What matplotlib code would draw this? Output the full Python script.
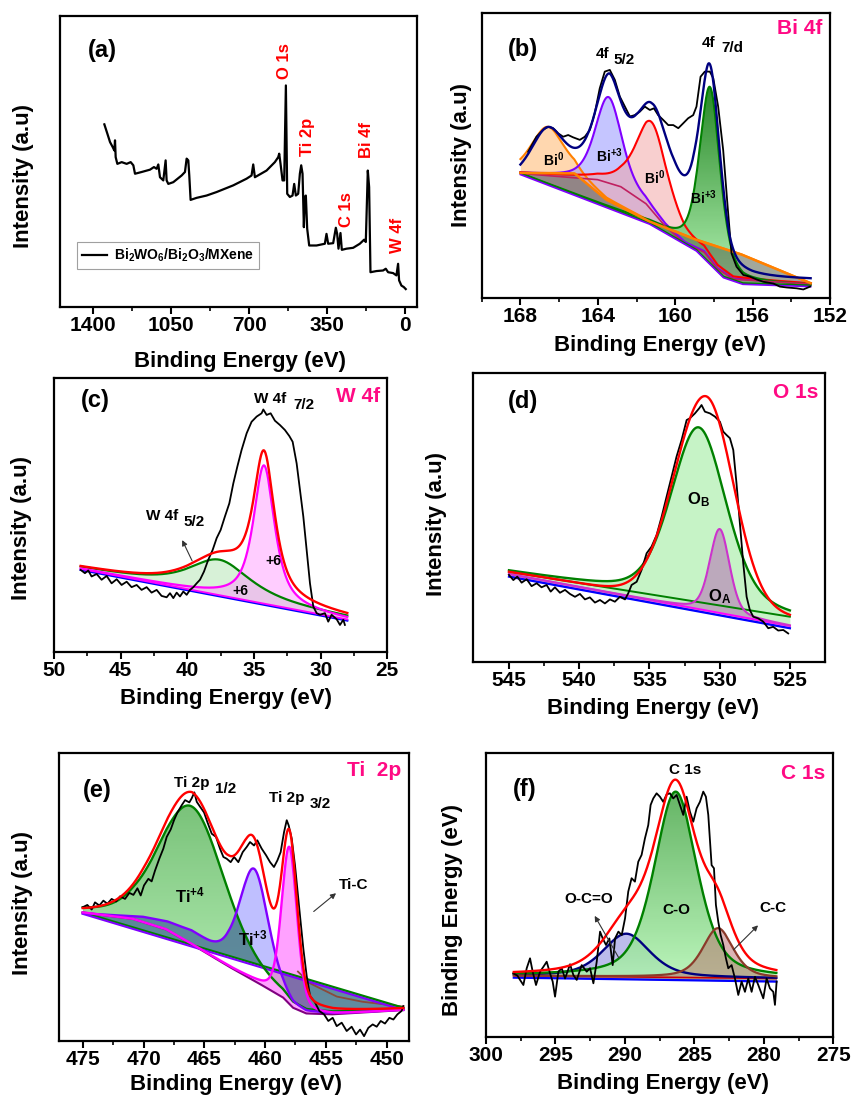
import numpy as np
import matplotlib
matplotlib.use("Agg")
import matplotlib.pyplot as plt
from matplotlib.colors import LinearSegmentedColormap

plt.rcParams['font.family'] = ['Liberation Sans', 'DejaVu Sans']
plt.rcParams['font.weight'] = 'bold'
plt.rcParams['axes.labelweight'] = 'bold'
plt.rcParams['mathtext.fontset'] = 'custom'
for k in ('rm', 'it', 'bf', 'sf'):
    plt.rcParams['mathtext.' + k] = 'Liberation Sans:bold'

# ---------------- (a) survey ----------------
A_E = [1350.6, 1337.1, 1325.1, 1313.2, 1305.7, 1302.7, 1299.7, 1292.2, 1272.7, 1250.3, 1232.3, 1220.3,
       1212.8, 1182.9, 1145.5, 1127.5, 1115.5, 1108.0, 1100.5, 1085.6, 1075.1, 1070.6, 1063.1, 1040.6,
       1003.2, 988.2, 980.7, 973.2, 968.8, 962.8, 935.8, 890.9, 846.0, 771.1, 711.2, 688.8, 681.3, 673.8,
       621.4, 584.0, 569.0, 564.5, 558.5, 549.5, 542.0, 534.5, 528.5, 516.5, 504.6, 497.1, 489.6, 479.1,
       471.6, 465.6, 459.6, 453.6, 449.2, 444.7, 438.7, 429.7, 396.8, 359.4, 351.9, 344.4, 321.9, 309.9,
       304.0, 298.0, 289.0, 283.0, 262.1, 232.1, 202.2, 182.7, 175.2, 166.2, 160.2, 154.2, 127.3, 97.4,
       85.4, 74.9, 52.4, 37.5, 30.0, 25.5, 15.0, 4.5, -4.4]
A_I = [62.7, 59.5, 56.6, 54.9, 53.7, 57.2, 51.4, 49.1, 49.7, 49.1, 49.7, 48.6,
       45.7, 46.3, 47.1, 48.0, 47.4, 48.9, 44.5, 43.4, 50.3, 43.4, 42.2, 42.8,
       45.1, 46.3, 50.9, 50.3, 45.1, 36.7, 37.4, 38.2, 39.4, 41.7, 44.0, 45.1, 48.9, 44.5,
       46.8, 49.7, 51.4, 52.6, 49.1, 43.4, 43.4, 76.1, 38.8, 37.7, 38.2, 42.2, 38.2, 38.8,
       45.7, 48.6, 45.7, 27.3, 37.7, 38.2, 26.8, 21.0, 21.0, 21.6, 25.0, 21.6, 21.8, 27.1,
       25.0, 19.9, 25.3, 19.5, 19.9, 20.2, 21.6, 23.0, 22.2, 46.8, 41.1, 11.8, 12.2, 12.4,
       13.0, 11.8, 11.5, 10.7, 14.7, 9.0, 7.2, 6.7, 6.0]
A_LABELS = ['O 1s', 'Ti 2p', 'C 1s', 'Bi 4f', 'W 4f']
A_LABEL_POS = [(0.63, 0.845), (0.692, 0.584), (0.803, 0.332), (0.859, 0.573), (0.945, 0.244)]
A_TICKS = [1400, 1050, 700, 350, 0]

# ---------------- (b) Bi 4f ----------------
B_E = [167.60, 167.17, 166.83, 166.57, 166.31, 166.05, 165.79, 165.53, 165.28, 164.93, 164.67, 164.41,
       164.16, 163.90, 163.64, 163.38, 163.12, 162.86, 162.60, 162.34, 162.09, 161.83, 161.57, 161.31,
       161.10, 160.88, 160.62, 160.36, 160.10, 159.84, 159.59, 159.33, 159.07, 158.90, 158.69, 158.47,
       158.21, 158.03, 157.78, 157.52, 157.29, 157.09, 156.83, 156.48, 156.14, 155.79, 155.45, 154.93,
       154.59, 154.24, 153.72, 153.38, 153.03]
B_I = [51.3, 56.6, 59.0, 60.1, 59.6, 57.8, 56.6, 57.2, 56.4, 55.5, 56.6, 59.0,
       64.8, 73.6, 79.5, 80.1, 76.6, 70.7, 67.2, 63.7, 64.2, 65.4, 67.2, 66.0,
       66.6, 64.2, 62.5, 60.7, 60.7, 59.6, 61.3, 63.1, 64.2, 67.2, 77.7, 79.5,
       79.5, 77.1, 67.2, 51.9, 32.0, 15.6, 10.9, 8.0, 7.4, 6.4, 5.6, 5.0,
       3.9, 3.6, 3.3, 2.9, 3.9]
B_LIN_E = [153.0, 156.5, 158.9, 161.3, 163.55, 165.2, 168.0]
B_LIN_I = [5.1, 15.0, 20.3, 26.7, 34.4, 43.7, 43.9]
B_SLOW_E = [153.0, 156.5, 157.5, 158.2, 158.9, 161.3, 168.0]
B_SLOW_I = [4.3, 5.1, 7.4, 12.1, 16.8, 26.2, 43.7]
B_SHIGH_E = [153.0, 157.0, 157.8, 158.5, 159.5, 160.5, 161.5, 162.8, 164.0, 168.0]
B_SHIGH_I = [4.8, 6.5, 10.0, 16.0, 19.0, 25.0, 33.0, 39.0, 41.5, 43.7]
B_SENV_E = [153.0, 156.0, 157.2, 157.7, 158.3, 159.0, 160.0, 161.2, 162.0, 163.4, 164.5, 166.6, 168.0]
B_SENV_I = [6.0, 6.2, 6.8, 11.0, 19.0, 26.0, 31.0, 34.0, 39.0, 44.0, 44.0, 42.0, 41.0]
B_C = [166.6, 163.45, 161.2, 158.2]
B_H = [16.3, 30.2, 31.0, 62.0]
B_W = [2.0, 1.6, 2.0, 1.25]
B_M = [0.5, 0.5, 0.6, 0.5]
B_BASE = ['lin', 'high', 'high', 'low']

# ---------------- (c) W 4f ----------------
C_E = [48.0, 47.68, 47.43, 47.18, 46.8, 46.43, 46.05, 45.68, 45.3, 44.93, 44.55, 44.18, 43.8, 43.43,
       43.05, 42.68, 42.3, 41.93, 41.55, 41.3, 41.05, 40.8, 40.55, 40.3, 40.05, 39.8, 39.55, 39.3,
       39.05, 38.75, 38.43, 38.1, 37.8, 37.5, 37.18, 36.85, 36.55, 36.25, 35.93, 35.55, 35.18, 34.8,
       34.43, 34.3, 34.05, 33.75, 33.43, 33.05, 32.68, 32.35, 32.1, 31.8, 31.55, 31.3, 31.05, 30.8,
       30.55, 30.3, 30.05, 29.68, 29.43, 29.18, 28.8, 28.55, 28.3, 28.18]
C_I = [29.8, 28.6, 29.6, 27.4, 28.3, 26.2, 27.6, 24.9, 26.4, 24.3, 25.5, 23.5, 24.3, 22.5,
       23.5, 21.5, 22.5, 20.3, 19.8, 21.3, 19.5, 21.5, 20.1, 21.9, 20.7, 22.5, 23.5, 24.9,
       26.2, 29.2, 33.5, 37.1, 41.4, 44.4, 49.3, 54.1, 61.4, 67.5, 73.6, 79.7, 83.9, 85.8,
       87.0, 88.4, 86.4, 87.0, 84.3, 82.7, 80.9, 78.7, 76.6, 68.7, 59.0, 49.3, 37.1, 24.9,
       16.4, 14.0, 13.4, 14.0, 10.9, 13.4, 11.8, 9.7, 11.6, 9.7]
C_BLUE_E = [28.0, 48.0]
C_BLUE_I = [11.3, 29.8]
C_MAG_E = [28.0, 48.0]
C_MAG_I = [11.7, 30.2]
C_GRN_E = [28.0, 48.0]
C_GRN_I = [12.4, 30.4]
C_C = [37.6, 34.25]
C_H = [12.5, 50.5]
C_W = [5.5, 1.9]
C_M = [0.8, 0.8]

# ---------------- (d) O 1s ----------------
D_E = [545.0, 544.69, 544.41, 544.1, 543.74, 543.39, 543.03, 542.68, 542.32, 542.03, 541.73, 541.37,
       541.01, 540.66, 540.3, 539.95, 539.59, 539.24, 538.88, 538.52, 538.17, 537.81, 537.46, 537.1,
       536.74, 536.51, 536.27, 535.91, 535.56, 535.2, 534.85, 534.49, 534.13, 533.78, 533.42, 533.07,
       532.71, 532.35, 532.12, 531.76, 531.45, 531.29, 531.05, 530.69, 530.34, 529.98, 529.75, 529.51,
       529.27, 529.03, 528.8, 528.56, 528.32, 528.08, 527.85, 527.61, 527.25, 526.9, 526.54, 526.19,
       525.83, 525.47, 525.12]
D_I = [30.1, 28.3, 29.5, 27.4, 28.6, 26.2, 27.2, 25.8, 26.6, 24.3, 25.8, 23.9,
       24.9, 23.5, 22.5, 23.5, 21.6, 22.3, 20.5, 21.4, 20.2, 21.6, 20.8, 22.5,
       21.6, 23.7, 26.6, 27.7, 31.8, 37.6, 39.9, 43.9, 50.3, 57.2, 64.2, 71.1,
       76.9, 83.8, 84.4, 86.1, 87.9, 89.0, 86.7, 86.1, 85.0, 83.2, 79.8, 78.6,
       77.5, 73.4, 61.8, 48.0, 34.1, 22.5, 17.9, 15.6, 15.0, 13.9, 11.6, 12.1,
       10.8, 11.0, 9.8]
D_BLUE_E = [525.0, 545.0]
D_BLUE_I = [11.6, 29.5]
D_MAG_E = [525.0, 545.0]
D_MAG_I = [12.4, 30.4]
D_GRN_E = [525.0, 545.0]
D_GRN_I = [15.6, 31.2]
D_C = [531.5, 530.0]
D_H = [60.6, 29.1]
D_W = [4.6, 1.66]
D_M = [0.3, 0.3]
D_ENV_C, D_ENV_H, D_ENV_WL, D_ENV_WR = 531.0, 71.8, 5.2, 4.6

# ---------------- (e) Ti 2p ----------------
E_E = [475.0, 474.62, 474.26, 473.99, 473.63, 473.3, 472.97, 472.62, 472.26, 471.93, 471.52, 471.16,
       470.83, 470.5, 470.23, 469.96, 469.6, 469.33, 469.05, 468.7, 468.37, 468.09, 467.76, 467.49,
       467.21, 466.86, 466.58, 466.23, 466.04, 465.82, 465.62, 465.35, 465.02, 464.75, 464.39, 464.04,
       463.71, 463.43, 463.16, 462.83, 462.55, 462.2, 461.84, 461.51, 461.24, 460.91, 460.64, 460.28,
       459.92, 459.59, 459.27, 458.99, 458.72, 458.44, 458.22, 458.06, 457.81, 457.54, 457.32, 457.13,
       456.85, 456.58, 456.3, 455.89, 455.54, 455.15, 454.8, 454.44, 454.11, 453.7, 453.29, 452.88,
       452.52, 452.19, 451.86, 451.51, 451.15, 450.82, 450.49, 450.14, 449.78, 449.45, 449.12, 448.77,
       448.63]
E_I = [46.4, 47.2, 45.6, 48.1, 47.0, 48.7, 47.6, 49.3, 48.4, 50.2, 49.3, 51.4,
       50.7, 53.0, 50.5, 54.0, 56.3, 55.4, 59.2, 63.3, 66.8, 70.9, 73.5, 76.7,
       79.4, 81.9, 83.7, 82.9, 84.3, 86.4, 83.1, 81.4, 79.4, 76.1, 72.0, 70.9,
       66.8, 63.9, 63.3, 62.1, 63.9, 62.1, 65.6, 67.4, 69.1, 67.9, 69.7, 66.8,
       64.5, 62.1, 60.4, 62.7, 65.6, 72.6, 76.7, 74.9, 70.3, 61.0, 51.6, 43.5,
       31.8, 22.5, 15.5, 13.2, 10.3, 9.1, 6.8, 7.9, 5.0, 6.2, 3.3, 4.8,
       2.1, 3.8, 1.5, 4.4, 5.6, 4.8, 6.8, 5.9, 7.9, 7.3, 9.1, 10.3,
       12.0]
E_SH_E = [448.63, 454.4, 456.6, 457.7, 458.5, 459.9, 462.6, 465.35, 468.09, 470.83, 475.0]
E_SH_I = [10.6, 9.1, 9.4, 11.4, 14.9, 18.4, 24.8, 31.8, 38.6, 42.3, 44.6]
E_VB_E = [448.63, 454.4, 456.6, 457.7, 458.5, 459.9, 461.5, 463.0, 464.5, 466.0, 468.0, 470.0, 475.0]
E_VB_I = [10.6, 9.1, 9.4, 11.4, 14.9, 18.4, 23.0, 29.0, 33.0, 37.5, 41.0, 42.8, 44.2]
E_GRN_E = [448.63, 475.0]
E_GRN_I = [11.4, 44.6]
E_VIO_E = [448.63, 475.0]
E_VIO_I = [10.6, 44.1]
E_BRN_E = [448.63, 452.0, 454.1, 456.3, 457.3]
E_BRN_I = [11.8, 13.5, 15.3, 19.9, 24.0]
E_C = [466.0, 460.9, 458.0]
E_H = [48.0, 38.5, 54.7]
E_W = [6.4, 2.8, 1.5]
E_M = [0.3, 0.3, 0.3]

# ---------------- (f) C 1s ----------------
F_E = [298.03, 297.74, 297.55, 297.31, 297.07, 296.83, 296.64, 296.4, 296.11, 295.87, 295.63, 295.39,
       295.2, 295.03, 294.79, 294.55, 294.31, 293.95, 293.71, 293.47, 293.11, 292.75, 292.51, 292.27,
       292.03, 291.79, 291.6, 291.36, 291.12, 290.88, 290.71, 290.47, 290.23, 289.99, 289.76, 289.52,
       289.28, 289.04, 288.8, 288.56, 288.32, 288.15, 287.96, 287.72, 287.48, 287.24, 287.0, 286.76,
       286.52, 286.28, 286.04, 285.8, 285.56, 285.32, 285.08, 284.84, 284.6, 284.36, 284.17, 284.0,
       283.76, 283.59, 283.45, 283.28, 283.11, 282.92, 282.73, 282.56, 282.32, 282.08, 281.84, 281.6,
       281.36, 281.12, 280.88, 280.64, 280.4, 280.04, 279.8, 279.56, 279.32, 279.2, 279.08]
F_I = [22.3, 21.5, 20.0, 18.2, 24.1, 27.6, 22.9, 18.2, 22.9, 24.6, 26.4, 22.3,
       19.4, 14.1, 22.9, 24.1, 20.5, 25.5, 21.7, 20.0, 25.2, 22.9, 24.1, 18.8,
       26.4, 37.0, 34.6, 32.3, 34.6, 25.2, 34.6, 37.0, 35.8, 41.7, 51.1, 55.8,
       54.6, 61.6, 64.0, 69.8, 74.5, 81.6, 83.9, 85.7, 84.5, 82.7, 85.3, 85.7,
       83.9, 85.1, 81.6, 78.1, 84.5, 79.2, 75.7, 80.4, 82.7, 86.3, 84.5, 78.1,
       60.4, 59.3, 46.4, 40.5, 35.8, 32.3, 27.6, 24.1, 25.2, 20.5, 14.7, 19.4,
       15.8, 20.5, 15.8, 21.1, 18.2, 13.5, 20.5, 17.0, 15.8, 11.2, 19.4]
F_BASE_E = [279.1, 298.0]
F_BASE_I = [20.5, 21.5]
F_BLUE_E = [279.1, 298.0]
F_BLUE_I = [19.4, 20.8]
F_C = [289.9, 286.35, 283.3]
F_H = [15.2, 65.4, 17.5]
F_W = [4.0, 3.65, 2.6]
F_M = [0.5, 0.5, 0.5]

PINK = '#ff0a84'


def pv(E, c, h, w, m):
    x = (E - c) / w
    return h * ((1 - m) * np.exp(-4 * np.log(2) * x ** 2) + m / (1 + 4 * x ** 2))


def agauss(E, c, h, wl, wr):
    w = np.where(E > c, wl, wr)
    return h * np.exp(-4 * np.log(2) * ((E - c) / w) ** 2)


def grad_fill(ax, x, ylo, yhi, c_top, c_bot, alpha, z):
    poly = ax.fill_between(x, ylo, yhi, facecolor='none', edgecolor='none', zorder=z)
    lo = float(min(np.min(ylo), np.min(yhi)))
    hi = float(max(np.max(ylo), np.max(yhi)))
    cmap = LinearSegmentedColormap.from_list('g', [c_bot, c_top])
    im = ax.imshow(np.linspace(0, 1, 256).reshape(-1, 1), extent=[x.min(), x.max(), lo, hi],
                   origin='lower', aspect='auto', cmap=cmap, alpha=alpha, zorder=z,
                   interpolation='bilinear')
    im.set_clip_path(poly.get_paths()[0], transform=ax.transData)


def overlap(a1, b1, a2, b2):
    lo = np.maximum(np.minimum(a1, b1), np.minimum(a2, b2))
    hi = np.minimum(np.maximum(a1, b1), np.maximum(a2, b2))
    return lo, hi


def style(ax, xlim, major, minor, xlabel_pos, ylabel, ylabel_pos):
    ax.set_xlim(*xlim)
    ax.set_ylim(0, 100)
    ax.set_yticks([])
    ax.set_xticks(major)
    ax.set_xticks(minor, minor=True)
    ax.tick_params(axis='x', which='major', direction='out', length=5, width=1.5, labelsize=15, pad=2)
    ax.tick_params(axis='x', which='minor', direction='out', length=3, width=1.2)
    for lab in ax.get_xticklabels():
        lab.set_fontweight('bold')
    for s in ax.spines.values():
        s.set_linewidth(1.6)
    ax.set_xlabel('Binding Energy (eV)', fontsize=16, fontweight='bold')
    ax.xaxis.set_label_coords(*xlabel_pos)
    ax.set_ylabel(ylabel, fontsize=16, fontweight='bold')
    ax.yaxis.set_label_coords(*ylabel_pos)


def txt(ax, x, y, s, size=11, color='black', ha='center', va='center', rot=0):
    ax.text(x, y, s, transform=ax.transAxes, fontsize=size, color=color, ha=ha, va=va,
            fontweight='bold', rotation=rot, zorder=20)


def arrow(ax, head, tail):
    ax.annotate('', xy=head, xytext=tail, xycoords='axes fraction',
                arrowprops=dict(arrowstyle='-|>', color='#333333', lw=0.8, mutation_scale=8), zorder=20)


W, H = 851, 1095
fig = plt.figure(figsize=(W / 100, H / 100), dpi=100)


def add_ax(l, r, t, b):
    return fig.add_axes([l / W, 1 - b / H, (r - l) / W, (b - t) / H])


# ===== (a) =====
ax = add_ax(60, 417, 16, 306.5)
ax.plot(A_E, A_I, color='black', lw=1.6, label=r'Bi$_2$WO$_6$/Bi$_2$O$_3$/MXene')
leg = ax.legend(loc='lower left', bbox_to_anchor=(0.048, 0.128), frameon=True,
                fancybox=False, edgecolor='#888888', handlelength=1.8, handletextpad=0.5,
                borderpad=0.35, borderaxespad=0, prop={'weight': 'bold', 'size': 10})
leg.get_frame().set_linewidth(0.8)
for lab, (x, y) in zip(A_LABELS, A_LABEL_POS):
    txt(ax, x, y, lab, size=12, color='red', rot=90)
txt(ax, 0.119, 0.88, '(a)', size=17)
style(ax, (1550, -55), A_TICKS, [1225, 875, 525, 175], (0.504, -0.153), 'Intensity (a.u)', (-0.073, 0.449))

# ===== (b) =====
ax = add_ax(481.7, 830, 13.3, 297.7)
Eb = np.linspace(153, 168, 900)
lin_b = np.interp(Eb, B_LIN_E, B_LIN_I)
low_b = np.interp(Eb, B_SLOW_E, B_SLOW_I)
bases_b = {'lin': lin_b, 'low': low_b, 'high': np.interp(Eb, B_SHIGH_E, B_SHIGH_I)}
line_cols = ['#ff8000', '#8000ff', '#ff0000', '#008000']
fill_cols = ['#ffb060', '#8c8cff', '#f2a0a0', None]
fill_to = [lin_b, low_b, low_b, low_b]
peaks_b = []
for i in range(4):
    p = pv(Eb, B_C[i], B_H[i], B_W[i], B_M[i])
    peaks_b.append(p)
    y = bases_b[B_BASE[i]] + p
    if fill_cols[i]:
        ax.fill_between(Eb, fill_to[i], y, color=fill_cols[i], alpha=0.5, lw=0, zorder=2)
    else:
        grad_fill(ax, Eb, fill_to[i], y, '#0f7a0f', '#a8f0a8', 0.9, 2)
    ax.plot(Eb, y, color=line_cols[i], lw=1.5, zorder=4)
ax.fill_between(Eb, low_b, lin_b, color='#56614a', alpha=0.55, lw=0, zorder=3)
ax.plot(Eb, bases_b['high'], color='#c02060', lw=1.2, zorder=4)
ax.plot(Eb, low_b, color='#008000', lw=1.4, zorder=4)
ax.plot(Eb, low_b - 0.4, color='#8000ff', lw=1.2, zorder=4)
ax.plot(Eb, lin_b, color='#ff8000', lw=1.8, zorder=5)
ax.plot(B_E, B_I, color='black', lw=1.3, zorder=6)
env_b = np.interp(Eb, B_SENV_E, B_SENV_I) + np.sum(peaks_b, axis=0)
ax.plot(Eb, env_b, color='#000080', lw=1.7, zorder=7)
txt(ax, 0.117, 0.874, '(b)', size=17)
txt(ax, 0.977, 0.947, 'Bi 4f', size=15, color=PINK, ha='right')
txt(ax, 0.347, 0.857, '4f', size=11)
txt(ax, 0.409, 0.836, '5/2', size=11)
txt(ax, 0.652, 0.895, '4f', size=11)
txt(ax, 0.720, 0.878, '7/d', size=11)
txt(ax, 0.205, 0.484, r'Bi$^{0}$', size=10)
txt(ax, 0.366, 0.498, r'Bi$^{+3}$', size=10)
txt(ax, 0.495, 0.423, r'Bi$^{0}$', size=10)
txt(ax, 0.638, 0.352, r'Bi$^{+3}$', size=10)
style(ax, (170, 152), [168, 164, 160, 156, 152], [170, 166, 162, 158, 154], (0.512, -0.131),
      'Intensity (a.u)', (-0.029, 0.502))

# ===== (c) =====
ax = add_ax(54, 387.3, 377.7, 651.5)
Ec = np.linspace(28.0, 48.0, 800)
blue_c = np.interp(Ec, C_BLUE_E, C_BLUE_I)
mag_c = np.interp(Ec, C_MAG_E, C_MAG_I)
grn_c = np.interp(Ec, C_GRN_E, C_GRN_I)
pg = pv(Ec, C_C[0], C_H[0], C_W[0], C_M[0])
pm = pv(Ec, C_C[1], C_H[1], C_W[1], C_M[1])
ax.fill_between(Ec, blue_c, grn_c + pg, color='#a8e0a8', alpha=0.45, lw=0, zorder=2)
ax.fill_between(Ec, blue_c, mag_c + pm, color='#ff90ff', alpha=0.45, lw=0, zorder=2)
ax.plot(Ec, blue_c, color='#0000ff', lw=1.6, zorder=4)
ax.plot(Ec, mag_c, color='#ff00ff', lw=1.3, zorder=4)
ax.plot(Ec, grn_c + pg, color='#008000', lw=1.6, zorder=4)
ax.plot(Ec, mag_c + pm, color='#ff00ff', lw=1.6, zorder=4)
ax.plot(C_E, C_I, color='black', lw=1.3, zorder=5)
ax.plot(Ec, grn_c + pg + pm, color='#ff0000', lw=1.7, zorder=6)
txt(ax, 0.123, 0.916, '(c)', size=17)
txt(ax, 0.978, 0.933, 'W 4f', size=15, color=PINK, ha='right')
txt(ax, 0.648, 0.922, 'W 4f', size=11)
txt(ax, 0.750, 0.900, '7/2', size=11)
txt(ax, 0.323, 0.495, 'W 4f', size=11)
txt(ax, 0.420, 0.473, '5/2', size=11)
txt(ax, 0.658, 0.332, '+6', size=10)
txt(ax, 0.558, 0.222, '+6', size=10)
arrow(ax, (0.381, 0.416), (0.418, 0.322))
style(ax, (50, 25), [50, 45, 40, 35, 30, 25], [47.5, 42.5, 37.5, 32.5, 27.5], (0.516, -0.134),
      'Intensity (a.u)', (-0.067, 0.451))

# ===== (d) =====
ax = add_ax(473.3, 825, 373.3, 661.7)
Ed = np.linspace(525.0, 545.0, 800)
blue_d = np.interp(Ed, D_BLUE_E, D_BLUE_I)
mag_d = np.interp(Ed, D_MAG_E, D_MAG_I)
grn_d = np.interp(Ed, D_GRN_E, D_GRN_I)
pg = pv(Ed, D_C[0], D_H[0], D_W[0], D_M[0])
pm = pv(Ed, D_C[1], D_H[1], D_W[1], D_M[1])
ax.fill_between(Ed, blue_d, grn_d + pg, color='#b4f0b4', alpha=0.75, lw=0, zorder=2)
ax.fill_between(Ed, blue_d, mag_d + pm, color='#b050b0', alpha=0.45, lw=0, zorder=2)
ax.plot(Ed, blue_d, color='#0000ff', lw=1.6, zorder=4)
ax.plot(Ed, mag_d, color='#ff00ff', lw=1.4, zorder=4)
ax.plot(Ed, grn_d, color='#008000', lw=1.4, zorder=4)
ax.plot(Ed, mag_d + pm, color='#cc33cc', lw=1.5, zorder=4)
ax.plot(Ed, grn_d + pg, color='#008000', lw=1.7, zorder=4)
ax.plot(D_E, D_I, color='black', lw=1.3, zorder=5)
ax.plot(Ed, grn_d + agauss(Ed, D_ENV_C, D_ENV_H, D_ENV_WL, D_ENV_WR), color='#ff0000', lw=1.7, zorder=6)
txt(ax, 0.14, 0.902, '(d)', size=17)
txt(ax, 0.981, 0.935, 'O 1s', size=15, color=PINK, ha='right')
txt(ax, 0.64, 0.562, r'O$_{B}$', size=12)
txt(ax, 0.701, 0.224, r'O$_{A}$', size=12)
style(ax, (547.54, 522.5), [545, 540, 535, 530, 525], [542.5, 537.5, 532.5, 527.5], (0.511, -0.127),
      'Intensity (a.u)', (-0.076, 0.477))

# ===== (e) =====
ax = add_ax(59, 409.3, 753.3, 1040.5)
Ee = np.linspace(448.63, 475.0, 900)
sh_e = np.interp(Ee, E_SH_E, E_SH_I)
vb_e = np.interp(Ee, E_VB_E, E_VB_I)
grn_e = np.interp(Ee, E_GRN_E, E_GRN_I)
vio_e = np.interp(Ee, E_VIO_E, E_VIO_I)
pk_e = [pv(Ee, E_C[i], E_H[i], E_W[i], E_M[i]) for i in range(3)]
g_curve = sh_e + pk_e[0]
v_curve = vb_e + pk_e[1]
m_curve = sh_e + pk_e[2]
grad_fill(ax, Ee, grn_e, g_curve, '#62b862', '#a8eca8', 0.85, 2)
ax.fill_between(Ee, grn_e, v_curve, color='#8080ff', alpha=0.5, lw=0, zorder=2)
ax.fill_between(Ee, sh_e, m_curve, color='#ff55ff', alpha=0.55, lw=0, zorder=2)
olo, ohi = overlap(grn_e, g_curve, grn_e, v_curve)
ax.fill_between(Ee, olo, ohi, where=ohi > olo, color='#1f5a5a', alpha=0.45, lw=0, zorder=3)
ax.plot(Ee, sh_e, color='#800080', lw=1.5, zorder=4)
ax.plot(E_BRN_E, E_BRN_I, color='#8b4a3a', lw=1.3, zorder=4)
ax.plot(Ee, grn_e, color='#008000', lw=1.6, zorder=4)
ax.plot(Ee, vio_e, color='#8000ff', lw=1.5, zorder=4)
ax.plot(Ee, g_curve, color='#008000', lw=1.7, zorder=4)
ax.plot(Ee, v_curve, color='#8000ff', lw=1.7, zorder=4)
ax.plot(Ee, m_curve, color='#ff00ff', lw=1.7, zorder=4)
ax.plot(E_E, E_I, color='black', lw=1.3, zorder=5)
ax.plot(Ee, sh_e + np.sum(pk_e, axis=0) + (vb_e - sh_e), color='#ff0000', lw=1.7, zorder=6)
txt(ax, 0.108, 0.869, '(e)', size=17)
txt(ax, 0.978, 0.941, 'Ti  2p', size=15, color=PINK, ha='right')
txt(ax, 0.38, 0.896, 'Ti 2p', size=11)
txt(ax, 0.476, 0.875, '1/2', size=11)
txt(ax, 0.65, 0.843, 'Ti 2p', size=11)
txt(ax, 0.745, 0.823, '3/2', size=11)
txt(ax, 0.374, 0.505, r'Ti$^{+4}$', size=12)
txt(ax, 0.555, 0.354, r'Ti$^{+3}$', size=12)
txt(ax, 0.84, 0.543, 'Ti-C', size=11)
arrow(ax, (0.797, 0.519), (0.721, 0.443))
style(ax, (476.95, 448.14), [475, 470, 465, 460, 455, 450], [472.5, 467.5, 462.5, 457.5, 452.5],
      (0.505, -0.115), 'Intensity (a.u)', (-0.073, 0.479))

# ===== (f) =====
ax = add_ax(486, 833.3, 752.7, 1036.7)
Ef = np.linspace(279.1, 298.0, 800)
base_f = np.interp(Ef, F_BASE_E, F_BASE_I)
blue_f = np.interp(Ef, F_BLUE_E, F_BLUE_I)
pk_f = [pv(Ef, F_C[i], F_H[i], F_W[i], F_M[i]) for i in range(3)]
ax.fill_between(Ef, blue_f, base_f + pk_f[0], color='#7a7ad8', alpha=0.5, lw=0, zorder=2)
grad_fill(ax, Ef, blue_f, base_f + pk_f[1], '#4aa84a', '#b0f4b0', 0.85, 2)
ax.fill_between(Ef, blue_f, base_f + pk_f[2], color='#b86a6a', alpha=0.5, lw=0, zorder=2)
ax.plot(Ef, blue_f, color='#0000ff', lw=1.6, zorder=4)
ax.plot(Ef, base_f, color='#cc0000', lw=1.2, zorder=4)
ax.plot(Ef, base_f + pk_f[0], color='#000080', lw=1.7, zorder=4)
ax.plot(Ef, base_f + pk_f[1], color='#008000', lw=1.7, zorder=4)
ax.plot(Ef, base_f + pk_f[2], color='#8b3a2a', lw=1.6, zorder=4)
ax.plot(F_E, F_I, color='black', lw=1.3, zorder=5)
ax.plot(Ef, base_f + np.sum(pk_f, axis=0), color='#ff0000', lw=1.7, zorder=6)
txt(ax, 0.11, 0.869, '(f)', size=17)
txt(ax, 0.976, 0.927, 'C 1s', size=15, color=PINK, ha='right')
txt(ax, 0.573, 0.938, 'C 1s', size=11)
txt(ax, 0.297, 0.485, 'O-C=O', size=11)
txt(ax, 0.549, 0.446, 'C-O', size=11)
txt(ax, 0.827, 0.452, 'C-C', size=11)
arrow(ax, (0.309, 0.434), (0.386, 0.270))
arrow(ax, (0.789, 0.399), (0.707, 0.299))
style(ax, (300, 275), [300, 295, 290, 285, 280, 275], [297.5, 292.5, 287.5, 282.5, 277.5],
      (0.51, -0.128), 'Binding Energy (eV)', (-0.065, 0.446))

fig.savefig('out.png', dpi=100)
